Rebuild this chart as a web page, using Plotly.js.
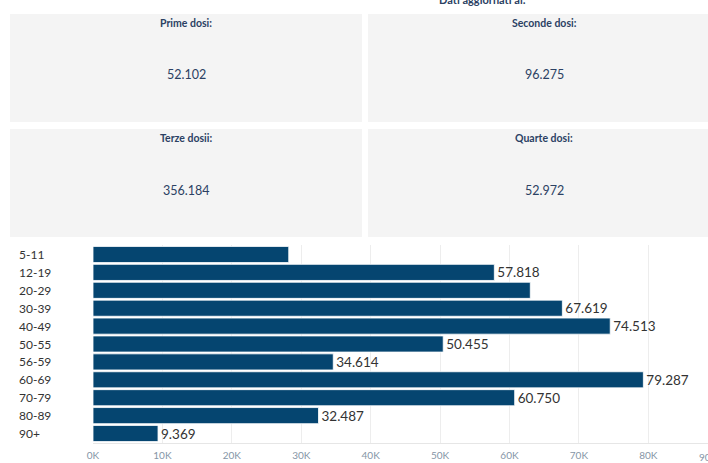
<!DOCTYPE html>
<html>
<head>
<meta charset="utf-8">
<script src="https://cdn.plot.ly/plotly-3.0.1.min.js"></script>
<style>
html,body{margin:0;padding:0;background:#fff;overflow:hidden;}
#chart{width:708px;height:463px;}
</style>
</head>
<body>
<div id="chart"></div>
<script>
// ---- data ----
const categories = ["5-11","12-19","20-29","30-39","40-49","50-55","56-59","60-69","70-79","80-89","90+"];
const values = [28200, 57818, 63000, 67619, 74513, 50455, 34614, 79287, 60750, 32487, 9369];
const showLabel = [false, true, false, true, true, true, true, true, true, true, true];
const tileTitles = ["Prime dosi:", "Seconde dosi:", "Terze dosii:", "Quarte dosi:"];
const tileValues = ["52.102", "96.275", "356.184", "52.972"];
const tickVals = [0, 10000, 20000, 30000, 40000, 50000, 60000, 70000, 80000];
const tickText = ["0K","10K","20K","30K","40K","50K","60K","70K","80K"];
const lastTick = "90K";
const headerText = "Dati aggiornati al:";

// ---- helpers ----
const W = 708, H = 463;
const px = x => x / W;
const py = y => 1 - y / H;
function fmtIt(n) {
  return String(Math.round(n)).replace(/\B(?=(\d{3})+(?!\d))/g, ".");
}

const navy = "#2b4163";
const barColor = "#054570";
const fontFam = "Lato, 'Open Sans', sans-serif";

// tiles geometry [x0, y0, x1, y1] in pixels
const tileBoxes = [[10,14,362,122],[368,14,720,122],[10,129,362,237],[368,129,720,237]];
const tileCenters = [186, 544, 186, 544];

const shapes = tileBoxes.map(b => ({
  type: "rect", xref: "paper", yref: "paper",
  x0: px(b[0]), x1: px(b[2]), y0: py(b[3]), y1: py(b[1]),
  fillcolor: "#f4f4f4", line: {width: 0}, layer: "below"
}));

const annotations = [];
tileTitles.forEach((t, i) => {
  const b = tileBoxes[i];
  annotations.push({
    xref: "paper", yref: "paper", x: px(tileCenters[i]), y: py(b[1] + 9),
    text: "<b>" + t + "</b>", showarrow: false, xanchor: "center", yanchor: "middle",
    font: {family: fontFam, size: 10.5, color: navy}
  });
  annotations.push({
    xref: "paper", yref: "paper", x: px(tileCenters[i]), y: py(b[1] + 61),
    text: tileValues[i], showarrow: false, xanchor: "center", yanchor: "middle",
    font: {family: fontFam, size: 12.5, color: navy}
  });
});
annotations.push({
  xref: "paper", yref: "paper", x: px(482), y: py(-1),
  text: "<b>" + headerText + "</b>", showarrow: false, xanchor: "center", yanchor: "middle",
  font: {family: fontFam, size: 11, color: navy}
});
categories.forEach(c => {
  annotations.push({
    xref: "paper", yref: "y", x: px(17), y: c, text: c, showarrow: false,
    xanchor: "left", yanchor: "middle",
    font: {family: fontFam, size: 12, color: "#333"}
  });
});
annotations.push({
  xref: "paper", yref: "paper", x: px(697), y: py(457), text: lastTick, showarrow: false,
  xanchor: "left", yanchor: "middle",
  font: {family: fontFam, size: 10, color: "#8595a6"}
});

const trace = {
  type: "bar", orientation: "h",
  x: values, y: categories,
  text: values.map((v, i) => showLabel[i] ? fmtIt(v) : ""),
  textposition: "outside", cliponaxis: false,
  textfont: {family: fontFam, size: 13.5, color: "#333"},
  marker: {color: barColor, line: {color: "#ffffff", width: 0.8}},
  hoverinfo: "none"
};

const layout = {
  width: W, height: H,
  margin: {l: 0, r: 0, t: 0, b: 0},
  paper_bgcolor: "#fff", plot_bgcolor: "#fff",
  showlegend: false,
  bargap: 0.1,
  xaxis: {
    domain: [px(93), 1], range: [0, 88600],
    tickvals: tickVals, ticktext: tickText,
    showgrid: true, gridcolor: "#ededed", gridwidth: 1,
    zeroline: false, showline: true, linecolor: "#e6e6e6", linewidth: 1,
    ticks: "", ticklabelstandoff: 3,
    tickfont: {family: fontFam, size: 10, color: "#8595a6"},
    fixedrange: true
  },
  yaxis: {
    domain: [20 / H, 218 / H], autorange: "reversed",
    showticklabels: false, showgrid: false, zeroline: false, ticks: "",
    fixedrange: true
  },
  shapes: shapes,
  annotations: annotations
};

Plotly.newPlot("chart", [trace], layout, {displayModeBar: false, staticPlot: true});
</script>
</body>
</html>
